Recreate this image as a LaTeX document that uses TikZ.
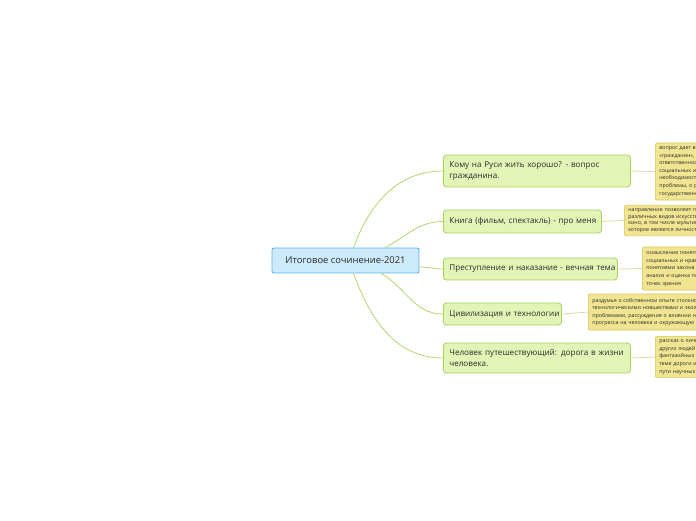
\documentclass[tikz,border=0pt]{standalone}
\usepackage{fontspec}
\setmainfont{Open Sans}
\usepackage{xcolor}
\usetikzlibrary{positioning, calc}

\definecolor{rootfill}{HTML}{CDEAFB}
\definecolor{rootline}{HTML}{5DB5E6}
\definecolor{topicfill}{HTML}{E2F4B6}
\definecolor{topicline}{HTML}{A6D25C}
\definecolor{notefill}{HTML}{F1E591}
\definecolor{noteline}{HTML}{D6C45C}
\definecolor{linkgreen}{HTML}{B4D46C}
\definecolor{linknote}{HTML}{DDDAA4}
\definecolor{inkgray}{HTML}{2A2A2A}

\begin{document}
\begin{tikzpicture}[
    x=1pt, y=-1pt,
    every node/.style={text=inkgray},
    root/.style={rectangle, rounded corners=2pt, draw=rootline, line width=0.9pt, fill=rootfill, minimum width=147pt, minimum height=25pt, font=\fontsize{9.4}{11}\selectfont},
    topic/.style={rectangle, rounded corners=3pt, draw=topicline, line width=0.8pt, fill=topicfill, anchor=west, align=left, inner xsep=6pt, font=\fontsize{8.1}{11}\selectfont},
    note/.style={rectangle, rounded corners=2pt, draw=noteline, line width=0.6pt, fill=notefill, anchor=west, align=left, inner xsep=4pt, text width=150pt, font=\fontsize{5.3}{7.6}\selectfont},
    link/.style={linkgreen, line width=0.8pt},
    notelink/.style={linknote, line width=0.8pt}
]
\useasboundingbox (0,0) rectangle (696,520);
\clip (0,0) rectangle (696,520);

% Central topic
\node[root] (center) at (345.5,260.5) {Итоговое сочинение-2021};

% Directions
\node[topic, text width=175pt, minimum height=32pt] (b1) at (443,171) {\mbox{Кому на Руси жить хорошо? - вопрос}\\гражданина.};
\node[topic, text width=146pt, minimum height=23pt] (b2) at (443,221.5) {\mbox{Книга (фильм, спектакль) - про меня}};
\node[topic, text width=162pt, minimum height=22pt] (b3) at (443,269) {\mbox{Преступление и наказание - вечная тема}};
\node[topic, text width=106pt, minimum height=22pt] (b4) at (443,314) {\mbox{Цивилизация и технологии}};
\node[topic, text width=175pt, minimum height=30pt] (b5) at (443,358) {\mbox{Человек путешествующий: дорога в жизни}\\человека.};

% Notes
\node[note, minimum height=57pt] (n1) at (655,171.5) {вопрос дает возможность\\«гражданин», о гражданской\\ответственности человека\\социальных и нравственных\\необходимости решения\\проблемы, о роли\\государственных институтов};
\node[note, minimum height=27pt, font=\fontsize{5.3}{6.6}\selectfont] (n2) at (624,220.5) {направление позволяет говорить о произведениях\\различных видов искусства: литературы,\\кино, в том числе мультипликации, театра,\\которое является личностно значимым};
\node[note, minimum height=43pt] (n3) at (642,268.5) {осмысление понятий\\социальных и нравственных\\понятиями закона и совести\\анализ и оценка поступков\\точек зрения};
\node[note, minimum height=36pt] (n4) at (588,312) {раздумья о собственном опыте столкновения с\\технологическими новшествами и экологическими\\проблемами, рассуждения о влиянии научного\\прогресса на человека и окружающую среду};
\node[note, minimum height=40pt] (n5) at (655,357) {рассказ о личном опыте\\других людей\\фантазийных путешествиях\\теме дороги и\\пути научных открытий};

% Connectors
\draw[link] (center.58) to[out=70, in=180] (b1.west);
\draw[link] (center.18) to[out=28, in=180] (b2.west);
\draw[link] (center.-5) to[out=0, in=180] (b3.west);
\draw[link] (center.-20) to[out=-30, in=180] (b4.west);
\draw[link] (center.-58) to[out=-70, in=180] (b5.west);

\draw[notelink] (b1.east) -- (n1.west);
\draw[notelink] (b2.east) -- (n2.west);
\draw[notelink] (b3.east) -- (n3.west);
\draw[notelink] (b4.east) -- (n4.west);
\draw[notelink] (b5.east) -- (n5.west);

\end{tikzpicture}
\end{document}
